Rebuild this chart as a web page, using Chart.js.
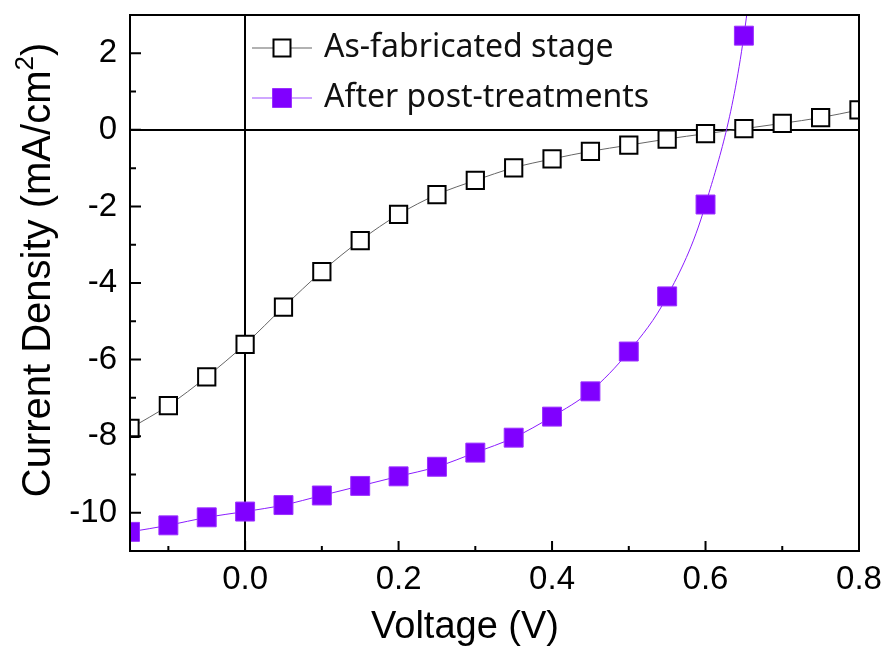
<!DOCTYPE html>
<html>
<head>
<meta charset="utf-8">
<script src="https://cdn.jsdelivr.net/npm/chart.js@4.4.1/dist/chart.umd.min.js"></script>
<style>
  html, body { margin: 0; padding: 0; background: #fff; }
  #wrap { width: 889px; height: 655px; }
</style>
</head>
<body>
<div id="wrap"><canvas id="jvChart"></canvas></div>
<script>
// J-V data
const voltageA = [-0.15, -0.1, -0.05, 0, 0.05, 0.1, 0.15, 0.2, 0.25, 0.3, 0.35, 0.4, 0.45, 0.5, 0.55, 0.6, 0.65, 0.7, 0.75, 0.8];
const asFabricated = [-7.8, -7.2, -6.45, -5.6, -4.63, -3.7, -2.89, -2.21, -1.69, -1.32, -0.99, -0.76, -0.56, -0.4, -0.24, -0.1, 0.03, 0.17, 0.32, 0.52];
const voltageB = [-0.15, -0.1, -0.05, 0, 0.05, 0.1, 0.15, 0.2, 0.25, 0.3, 0.35, 0.4, 0.45, 0.5, 0.55, 0.6, 0.65, 0.7];
const afterTreatment = [-10.5, -10.33, -10.12, -9.97, -9.8, -9.55, -9.3, -9.05, -8.8, -8.43, -8.04, -7.49, -6.83, -5.79, -4.35, -1.95, 2.46, 12];

const seriesLabels = ["As-fabricated stage", "After post-treatments"];
const xTitle = "Voltage (V)";
const yTitleParts = ["Current Density (mA/cm", "2", ")"]; // middle part is a superscript

// axis ticks
const xMajor = [0, 0.2, 0.4, 0.6, 0.8];
const xMinor = [-0.1, 0.1, 0.3, 0.5, 0.7];
const yMajor = [-10, -8, -6, -4, -2, 0, 2];
const yMinor = [-9, -7, -5, -3, -1, 1];

const purple = "#8000ff";
const axisFont = '"Liberation Sans", Arial';

function toPoints(xs, ys) {
  return xs.map((v, i) => ({ x: v, y: ys[i] }));
}

// box frame + inward ticks on bottom and left
const frameAndTicks = {
  id: "frameAndTicks",
  afterDraw(chart) {
    const { ctx, chartArea: a, scales } = chart;
    const x = scales.x, y = scales.y;
    ctx.save();
    ctx.strokeStyle = "#000";
    ctx.lineWidth = 2;
    ctx.strokeRect(a.left, a.top, a.right - a.left, a.bottom - a.top);
    ctx.beginPath();
    xMajor.forEach(v => { const p = x.getPixelForValue(v); ctx.moveTo(p, a.bottom); ctx.lineTo(p, a.bottom - 10); });
    xMinor.forEach(v => { const p = x.getPixelForValue(v); ctx.moveTo(p, a.bottom); ctx.lineTo(p, a.bottom - 5); });
    yMajor.forEach(v => { const p = y.getPixelForValue(v); ctx.moveTo(a.left, p); ctx.lineTo(a.left + 11, p); });
    yMinor.forEach(v => { const p = y.getPixelForValue(v); ctx.moveTo(a.left, p); ctx.lineTo(a.left + 6, p); });
    ctx.stroke();
    ctx.restore();
  }
};

// axis titles (the y one needs a real superscript)
const axisTitles = {
  id: "axisTitles",
  afterDraw(chart) {
    const { ctx } = chart;
    ctx.save();
    ctx.fillStyle = "#000";
    ctx.textBaseline = "alphabetic";
    ctx.textAlign = "center";
    ctx.font = "38px " + axisFont;
    ctx.fillText(xTitle, 465, 638);

    ctx.translate(50, 270);
    ctx.rotate(-Math.PI / 2);
    ctx.textAlign = "left";
    const big = "40px " + axisFont, small = "26px " + axisFont;
    ctx.font = big;
    const w1 = ctx.measureText(yTitleParts[0]).width;
    const w3 = ctx.measureText(yTitleParts[2]).width;
    ctx.font = small;
    const w2 = ctx.measureText(yTitleParts[1]).width;
    let cx = -(w1 + w2 + w3) / 2;
    ctx.font = big;
    ctx.fillText(yTitleParts[0], cx, 0);
    cx += w1;
    ctx.font = small;
    ctx.fillText(yTitleParts[1], cx, -17);
    cx += w2;
    ctx.font = big;
    ctx.fillText(yTitleParts[2], cx, 0);
    ctx.restore();
  }
};

// legend inside the plot, line through marker
const insideLegend = {
  id: "insideLegend",
  afterDraw(chart) {
    const { ctx, chartArea: a } = chart;
    chart.data.datasets.forEach((ds, i) => {
      const yMid = a.top + 33 + i * 50;
      const x0 = a.left + 122;
      ctx.save();
      ctx.strokeStyle = ds.legendLine;
      ctx.lineWidth = 1.2;
      ctx.beginPath();
      ctx.moveTo(x0, yMid);
      ctx.lineTo(x0 + 60, yMid);
      ctx.stroke();
      const s = ds.legendBox;
      ctx.fillStyle = ds.pointBackgroundColor;
      ctx.strokeStyle = ds.pointBorderColor;
      ctx.lineWidth = ds.pointBorderWidth;
      ctx.beginPath();
      ctx.rect(x0 + 30 - s / 2, yMid - s / 2, s, s);
      ctx.fill();
      ctx.stroke();
      ctx.fillStyle = "#111";
      ctx.font = '32px "Noto Sans"';
      ctx.textBaseline = "middle";
      ctx.fillText(ds.label, x0 + 72, yMid);
      ctx.restore();
    });
  }
};

const ctx = document.getElementById("jvChart").getContext("2d");
const jvChart = new Chart(ctx, {
  type: "line",
  data: {
    datasets: [
      {
        label: seriesLabels[0],
        data: toPoints(voltageA, asFabricated),
        borderColor: "#666",
        borderWidth: 1,
        cubicInterpolationMode: "monotone",
        pointStyle: "rect",
        pointRadius: 12.2,
        pointBackgroundColor: "#fff",
        pointBorderColor: "#000",
        pointBorderWidth: 2,
        legendLine: "#666",
        legendBox: 17,
        clip: 0,
        order: 2,
      },
      {
        label: seriesLabels[1],
        data: toPoints(voltageB, afterTreatment),
        borderColor: "#8a1cff",
        borderWidth: 1,
        cubicInterpolationMode: "monotone",
        pointStyle: "rect",
        pointRadius: 13.4,
        pointBackgroundColor: purple,
        pointBorderColor: "#9a30ff",
        pointBorderWidth: 1,
        legendLine: "#a050ff",
        legendBox: 19,
        clip: 0,
        order: 1,
      },
    ],
  },
  options: {
    responsive: true,
    maintainAspectRatio: false,
    animation: false,
    events: [],
    layout: { padding: { top: 15, right: 30, left: 0, bottom: 0 } },
    plugins: {
      legend: { display: false },
      tooltip: { enabled: false },
    },
    scales: {
      x: {
        type: "linear",
        min: -0.15,
        max: 0.8,
        afterBuildTicks: s => { s.ticks = xMajor.map(v => ({ value: v })); },
        afterFit: s => { s.height = 104; s.paddingLeft = 0; s.paddingRight = 0; },
        ticks: {
          callback: v => Number(v).toFixed(1),
          color: "#000",
          padding: 9,
          maxRotation: 0,
          font: { family: axisFont, size: 33 },
        },
        grid: {
          drawTicks: false,
          lineWidth: 2,
          color: c => (c.tick && c.tick.value === 0 ? "#000" : "rgba(0,0,0,0)"),
        },
        border: { display: true, color: "#000", width: 2 },
        title: { display: false },
      },
      y: {
        type: "linear",
        min: -11,
        max: 3,
        afterBuildTicks: s => { s.ticks = yMajor.map(v => ({ value: v })); },
        afterFit: s => { s.width = 130; s.paddingTop = 0; s.paddingBottom = 0; },
        ticks: {
          callback: v => String(v),
          color: "#000",
          padding: 13,
          font: { family: axisFont, size: 33 },
        },
        grid: {
          drawTicks: false,
          lineWidth: 2,
          color: c => (c.tick && c.tick.value === 0 ? "#000" : "rgba(0,0,0,0)"),
        },
        border: { display: true, color: "#000", width: 2 },
        title: { display: false },
      },
    },
  },
  plugins: [frameAndTicks, axisTitles, insideLegend],
});
</script>
</body>
</html>
